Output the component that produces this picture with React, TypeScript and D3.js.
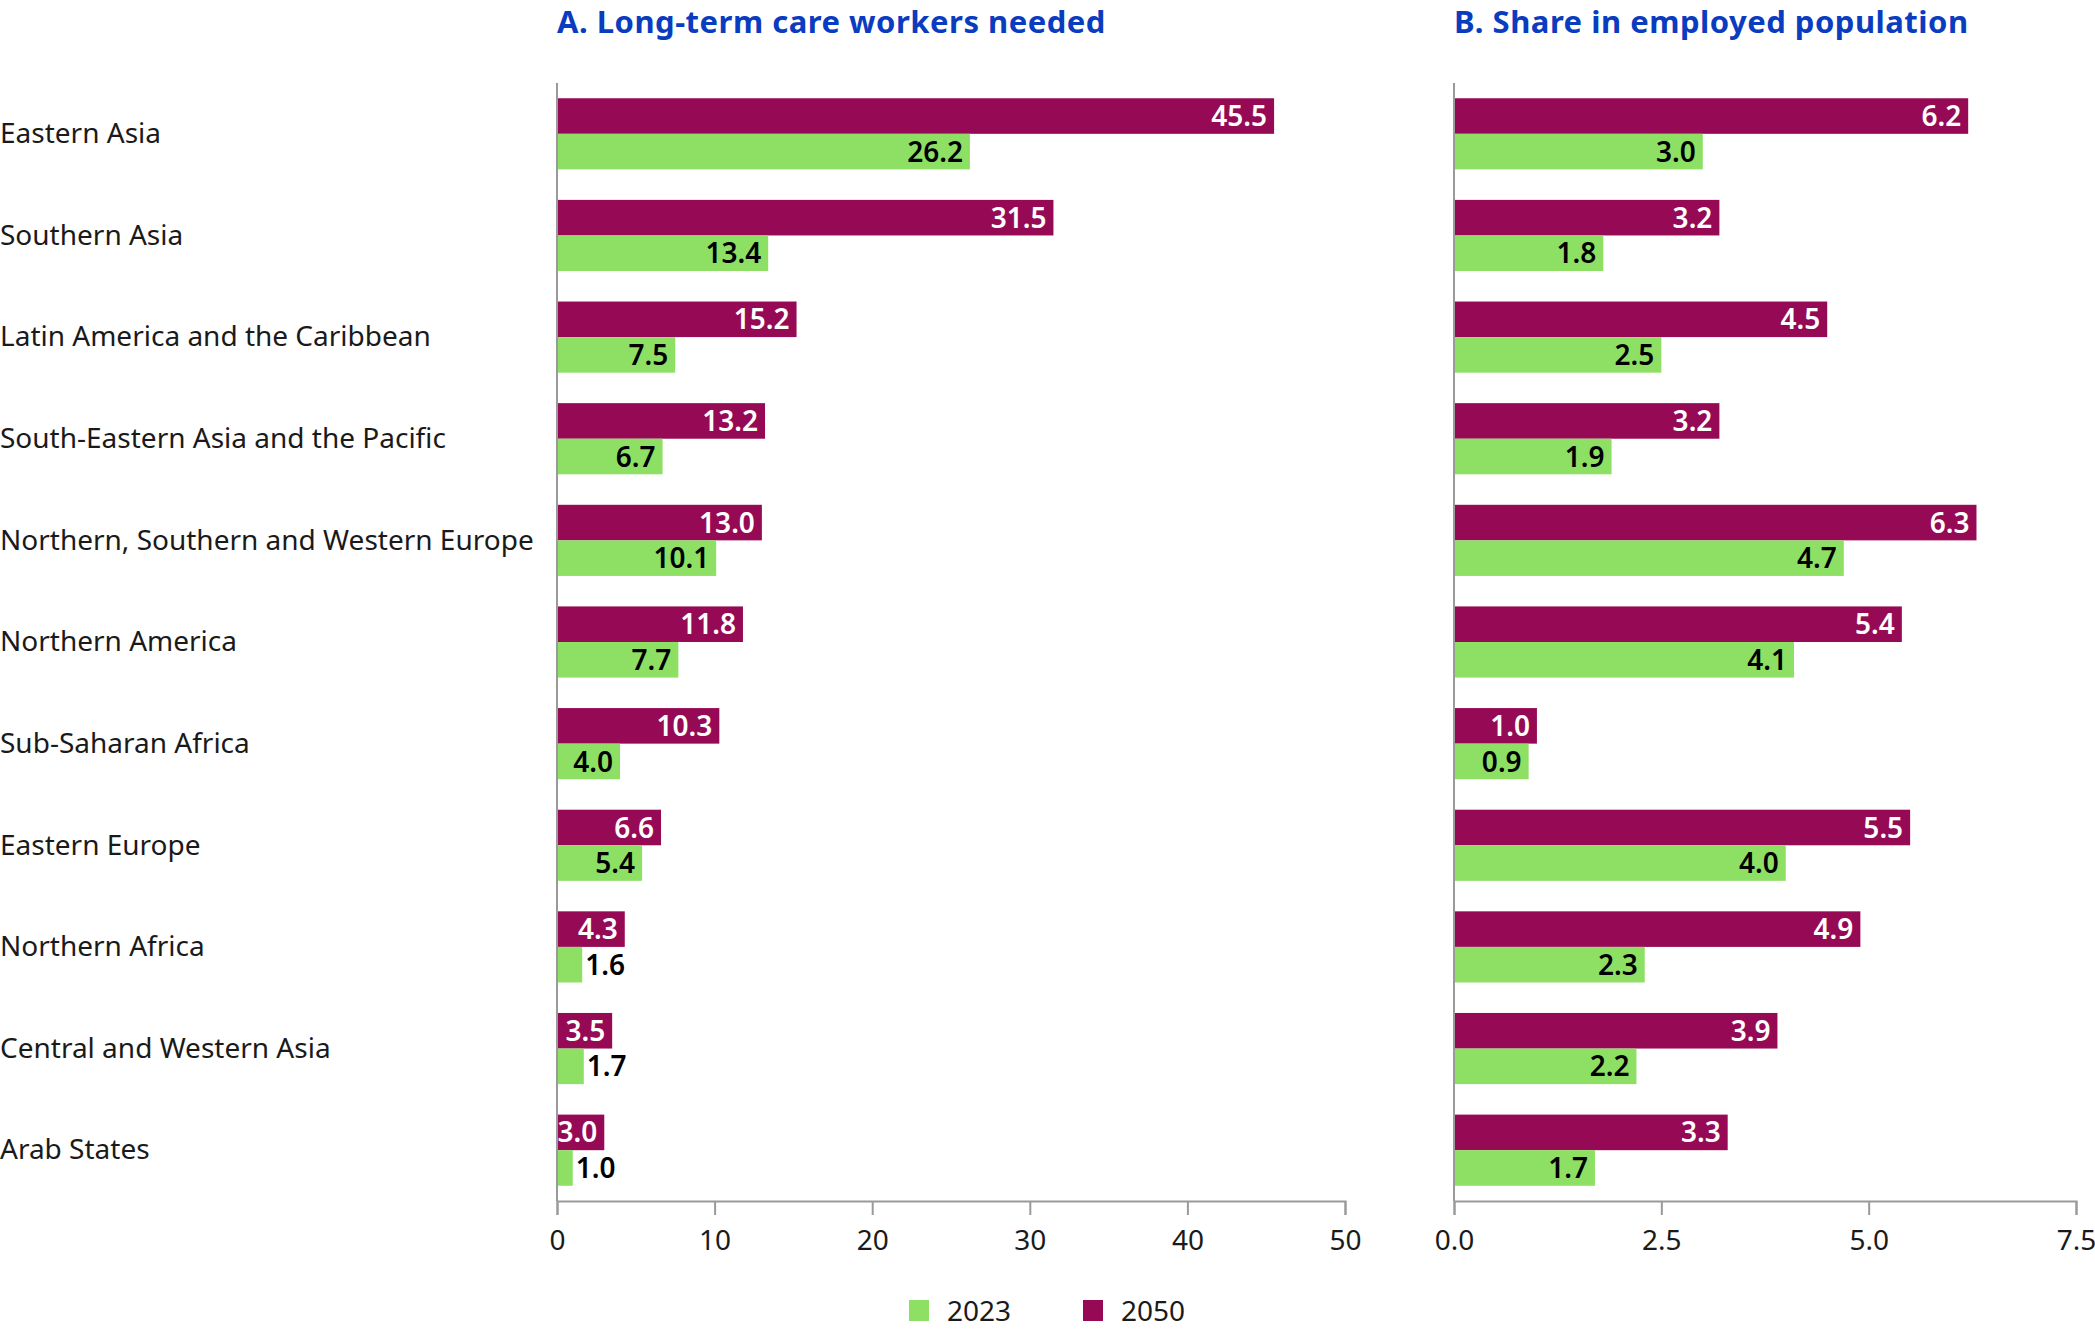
import React, { useEffect, useRef } from "react";
import * as d3 from "d3";

const regions = [
  "Eastern Asia",
  "Southern Asia",
  "Latin America and the Caribbean",
  "South-Eastern Asia and the Pacific",
  "Northern, Southern and Western Europe",
  "Northern America",
  "Sub-Saharan Africa",
  "Eastern Europe",
  "Northern Africa",
  "Central and Western Asia",
  "Arab States",
];

// A. long-term care workers needed (millions)
const workers2050 = [45.5, 31.5, 15.2, 13.2, 13.0, 11.8, 10.3, 6.6, 4.3, 3.5, 3.0];
const workers2023 = [26.2, 13.4, 7.5, 6.7, 10.1, 7.7, 4.0, 5.4, 1.6, 1.7, 1.0];

// B. share in employed population (%)
const share2050 = [6.2, 3.2, 4.5, 3.2, 6.3, 5.4, 1.0, 5.5, 4.9, 3.9, 3.3];
const share2023 = [3.0, 1.8, 2.5, 1.9, 4.7, 4.1, 0.9, 4.0, 2.3, 2.2, 1.7];

const ticksA = [0, 10, 20, 30, 40, 50];
const ticksB = [0, 2.5, 5, 7.5];

const years = ["2023", "2050"];

const WIDTH = 2095;
const HEIGHT = 1332;
const FONT = "'Noto Sans', 'Open Sans', sans-serif";
const MAROON = "#960a55";
const GREEN = "#8ee065";
const BLUE = "#0a3cc0";
const GREY = "#9a9a9a";
const FS = 28;

// rough width of a bold numeric label
const labelWidth = (s: string) =>
  s.split("").reduce((w, c) => w + (c === "." ? 0.28 : 0.58), 0) * FS;

const App = () => {
  const svgRef = useRef<SVGSVGElement>(null);

  useEffect(() => {
    const svg = d3.select(svgRef.current);
    svg.selectAll("*").remove();

    const yTop = 83;
    const yBottom = 1201;

    const y = d3
      .scaleBand<string>()
      .domain(regions)
      .range([yTop, yBottom])
      .paddingInner(0.3)
      .paddingOuter(0.15);

    const sub = d3
      .scaleBand<string>()
      .domain(["2050", "2023"])
      .range([0, y.bandwidth()]);

    // category labels
    svg
      .append("g")
      .selectAll("text")
      .data(regions)
      .enter()
      .append("text")
      .attr("x", 0)
      .attr("y", (d) => (y(d) as number) + y.bandwidth() / 2)
      .attr("dy", "0.33em")
      .attr("font-family", FONT)
      .attr("font-size", FS)
      .attr("fill", "#1a1a1a")
      .text((d) => d);

    const panels = [
      {
        title: "A. Long-term care workers needed",
        range: [557, 1345],
        domain: [0, 50],
        ticks: ticksA,
        fmt: (d: number) => d3.format("d")(d),
        v2050: workers2050,
        v2023: workers2023,
      },
      {
        title: "B. Share in employed population",
        range: [1454, 2076],
        domain: [0, 7.5],
        ticks: ticksB,
        fmt: (d: number) => d3.format(".1f")(d),
        v2050: share2050,
        v2023: share2023,
      },
    ];

    panels.forEach((p) => {
      const x = d3.scaleLinear().domain(p.domain).range(p.range);
      const g = svg.append("g");

      g.append("text")
        .attr("x", p.range[0])
        .attr("y", 33)
        .attr("font-family", FONT)
        .attr("font-size", 31)
        .attr("font-weight", "bold")
        .attr("letter-spacing", 0.5)
        .attr("fill", BLUE)
        .text(p.title);

      const rows = regions.flatMap((r, i) => [
        { region: r, year: "2050", value: p.v2050[i] },
        { region: r, year: "2023", value: p.v2023[i] },
      ]);

      g.selectAll(".bar")
        .data(rows)
        .enter()
        .append("rect")
        .attr("class", "bar")
        .attr("x", x(0))
        .attr("y", (d) => (y(d.region) as number) + (sub(d.year) as number))
        .attr("width", (d) => x(d.value) - x(0))
        .attr("height", sub.bandwidth())
        .attr("fill", (d) => (d.year === "2050" ? MAROON : GREEN));

      // value labels: inside the bar end when they fit, otherwise just outside
      g.selectAll(".lbl")
        .data(rows)
        .enter()
        .append("text")
        .attr("class", "lbl")
        .each(function (d) {
          const txt = d3.format(".1f")(d.value);
          const w = x(d.value) - x(0);
          const inside = w >= labelWidth(txt) + 5;
          d3.select(this)
            .attr("x", inside ? x(d.value) - 7 : x(d.value) + 3)
            .attr("text-anchor", inside ? "end" : "start")
            .attr("fill", inside && d.year === "2050" ? "#fff" : "#000")
            .text(txt);
        })
        .attr("y", (d) => (y(d.region) as number) + (sub(d.year) as number) + sub.bandwidth() / 2)
        .attr("dy", "0.36em")
        .attr("font-family", FONT)
        .attr("font-size", FS)
        .attr("font-weight", 600);

      // vertical baseline
      g.append("line")
        .attr("x1", x(0))
        .attr("x2", x(0))
        .attr("y1", yTop)
        .attr("y2", yBottom)
        .attr("stroke", GREY)
        .attr("stroke-width", 2);

      const axis = g
        .append("g")
        .attr("transform", `translate(0,${yBottom})`)
        .call(
          d3
            .axisBottom(x)
            .tickValues(p.ticks)
            .tickFormat((d) => p.fmt(d as number))
            .tickSize(14)
            .tickPadding(15)
        );
      axis.select(".domain").attr("stroke", GREY).attr("stroke-width", 2);
      axis.selectAll(".tick line").attr("stroke", GREY).attr("stroke-width", 2);
      axis
        .selectAll(".tick text")
        .attr("fill", "#1a1a1a")
        .attr("font-family", FONT)
        .attr("font-size", FS);
    });

    // legend
    const legendX = d3.scaleOrdinal<string, number>().domain(years).range([909, 1083]);
    const legendColor = d3.scaleOrdinal<string, string>().domain(years).range([GREEN, MAROON]);
    const lg = svg.append("g");
    lg.selectAll("rect")
      .data(years)
      .enter()
      .append("rect")
      .attr("x", (d) => legendX(d))
      .attr("y", 1300)
      .attr("width", 20)
      .attr("height", 21)
      .attr("fill", (d) => legendColor(d));
    lg.selectAll("text")
      .data(years)
      .enter()
      .append("text")
      .attr("x", (d) => legendX(d) + 38)
      .attr("y", 1321)
      .attr("font-family", FONT)
      .attr("font-size", FS)
      .attr("fill", "#1a1a1a")
      .text((d) => d);
  }, []);

  return (
    <div style={{ position: "absolute", top: 0, left: 0 }}>
      <svg ref={svgRef} width={WIDTH} height={HEIGHT} style={{ display: "block" }} />
    </div>
  );
};

export default App;
